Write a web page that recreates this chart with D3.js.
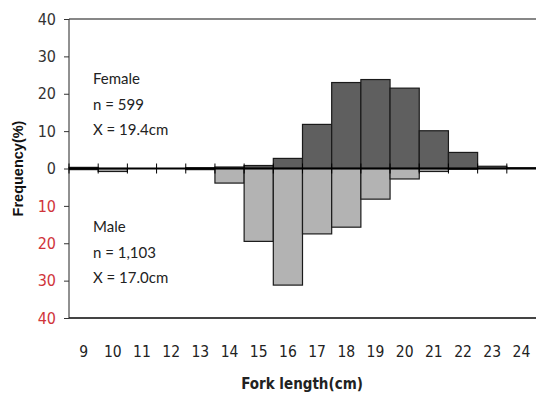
<!DOCTYPE html>
<html lang="en">
<head>
<meta charset="UTF-8">
<title>Fork length frequency</title>
<script src="https://cdn.jsdelivr.net/npm/d3@7/dist/d3.min.js"></script>
<style>
	body { margin: 0; background: #fff; }
	.narrow { font-family: "Liberation Sans Narrow", "Arial Narrow", "DejaVu Sans Condensed", sans-serif; font-stretch: condensed; }
	.note { font-family: Lato, "Open Sans", sans-serif; font-size: 15px; fill: #222; }
</style>
</head>
<body>
<div id="chart"></div>
<script>
	// fork length classes (cm)
	var lengths = [9, 10, 11, 12, 13, 14, 15, 16, 17, 18, 19, 20, 21, 22, 23, 24];
	// frequency (%) per class
	var female = [0.3, 0, 0, 0, 0.2, 0.4, 0.8, 2.7, 11.8, 23.0, 23.8, 21.5, 10.1, 4.3, 0.6, 0.2];
	var male = [0.3, 0.8, 0, 0, 0.3, 3.9, 19.5, 31.2, 17.5, 15.7, 8.2, 2.8, 0.8, 0.2, 0, 0];
	var yTicks = [-40, -30, -20, -10, 0, 10, 20, 30, 40];
	var femaleNote = ["Female", "n = 599", "X = 19.4cm"];
	var maleNote = ["Male", "n = 1,103", "X = 17.0cm"];

	var width = 536, height = 398;
	var plotLeft = 69, plotRight = 536, plotTop = 19, plotBottom = 318;

	var svg = d3.select("#chart").append("svg")
		.attr("width", width)
		.attr("height", height);

	var x = d3.scaleBand()
		.domain(lengths)
		.range([plotLeft, plotRight])
		.paddingInner(0);

	var y = d3.scaleLinear()
		.domain([-40, 40])
		.range([plotBottom, plotTop]);

	// female bars above zero
	svg.append("g").selectAll("rect")
		.data(lengths)
		.enter().append("rect")
		.attr("x", function(d){ return x(d); })
		.attr("width", x.bandwidth())
		.attr("y", function(d, i){ return y(female[i]); })
		.attr("height", function(d, i){ return y(0) - y(female[i]); })
		.attr("fill", "#5f5f5f")
		.attr("stroke", "#1a1a1a")
		.attr("stroke-width", 1.2);

	// male bars below zero
	svg.append("g").selectAll("rect")
		.data(lengths)
		.enter().append("rect")
		.attr("x", function(d){ return x(d); })
		.attr("width", x.bandwidth())
		.attr("y", y(0))
		.attr("height", function(d, i){ return y(-male[i]) - y(0); })
		.attr("fill", "#b3b3b3")
		.attr("stroke", "#1a1a1a")
		.attr("stroke-width", 1.2);

	// frame
	svg.append("line").attr("x1", plotLeft).attr("x2", plotRight).attr("y1", plotTop).attr("y2", plotTop)
		.attr("stroke", "#111").attr("stroke-width", 1.2);
	svg.append("line").attr("x1", plotLeft).attr("x2", plotRight).attr("y1", plotBottom).attr("y2", plotBottom)
		.attr("stroke", "#444").attr("stroke-width", 2);
	svg.append("line").attr("x1", plotLeft).attr("x2", plotLeft).attr("y1", plotTop).attr("y2", plotBottom)
		.attr("stroke", "#222").attr("stroke-width", 1);

	// zero line with tick marks at class boundaries
	svg.append("line").attr("x1", plotLeft).attr("x2", plotRight).attr("y1", y(0)).attr("y2", y(0))
		.attr("stroke", "#000").attr("stroke-width", 2);
	svg.append("g").selectAll("line")
		.data(lengths)
		.enter().append("line")
		.attr("x1", function(d){ return x(d); })
		.attr("x2", function(d){ return x(d); })
		.attr("y1", y(0) - 5)
		.attr("y2", y(0) + 5)
		.attr("stroke", "#000")
		.attr("stroke-width", 1);

	// y axis
	var yAxis = svg.append("g")
		.attr("class", "narrow")
		.attr("transform", "translate(" + plotLeft + ",0)")
		.call(d3.axisLeft(y).tickValues(yTicks).tickSize(5).tickPadding(8)
			.tickFormat(function(d){ return Math.abs(d); }));
	yAxis.select(".domain").remove();
	yAxis.selectAll(".tick line").attr("stroke", "#333");
	yAxis.selectAll(".tick text")
		.attr("font-size", 16)
		.attr("fill", function(d){ return d < 0 ? "#d0343a" : "#333"; });

	// x axis labels
	var xAxis = svg.append("g")
		.attr("class", "narrow")
		.attr("transform", "translate(0," + (plotBottom + 22) + ")")
		.call(d3.axisBottom(x).tickSize(0).tickPadding(6));
	xAxis.select(".domain").remove();
	xAxis.selectAll(".tick text").attr("font-size", 15.5).attr("fill", "#222");

	// axis titles
	svg.append("text")
		.attr("class", "narrow")
		.attr("x", 302).attr("y", 389)
		.attr("text-anchor", "middle")
		.attr("font-size", 15)
		.attr("font-weight", "bold")
		.attr("fill", "#222")
		.text("Fork length(cm)");

	svg.append("text")
		.attr("transform", "translate(23," + y(0) + ") rotate(-90)")
		.attr("text-anchor", "middle")
		.attr("font-family", "Liberation Sans, Arial, sans-serif")
		.attr("font-size", 14.5)
		.attr("font-weight", "bold")
		.attr("fill", "#111")
		.text("Frequency(%)");

	// notes
	svg.append("g").selectAll("text")
		.data(femaleNote)
		.enter().append("text")
		.attr("class", "note")
		.attr("x", 93)
		.attr("y", function(d, i){ return 84 + i * 25.5; })
		.text(function(d){ return d; });

	svg.append("g").selectAll("text")
		.data(maleNote)
		.enter().append("text")
		.attr("class", "note")
		.attr("x", 93)
		.attr("y", function(d, i){ return 232 + i * 25.5; })
		.text(function(d){ return d; });
</script>
</body>
</html>
